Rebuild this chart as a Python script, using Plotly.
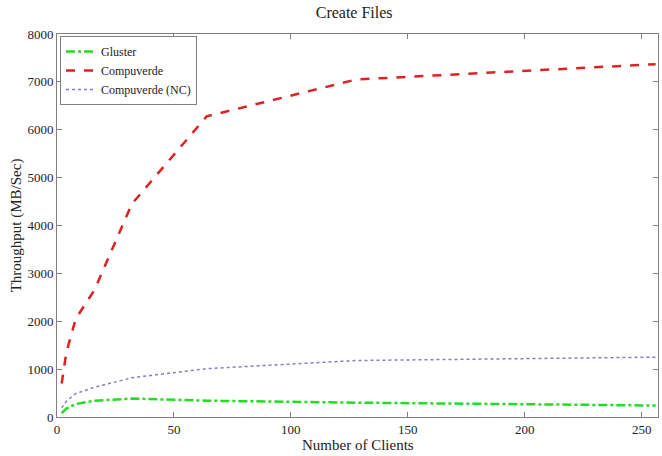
import plotly.graph_objects as go

clients = [2, 4, 8, 16, 32, 64, 128, 256]
gluster = [80, 175, 270, 340, 385, 340, 300, 240]
compuverde = [700, 1350, 2050, 2650, 4450, 6280, 7050, 7370]
compuverde_nc = [190, 330, 490, 620, 820, 1010, 1180, 1250]

font_family = "Liberation Serif, Times New Roman, serif"

fig = go.Figure()
fig.add_trace(go.Scatter(x=clients, y=gluster, mode="lines", name="Gluster",
                         line=dict(color="#22dd22", width=2.5, dash="dashdot")))
fig.add_trace(go.Scatter(x=clients, y=compuverde, mode="lines", name="Compuverde",
                         line=dict(color="#dd2222", width=2.5, dash="dash")))
fig.add_trace(go.Scatter(x=clients, y=compuverde_nc, mode="lines", name="Compuverde (NC)",
                         line=dict(color="#8080c0", width=1.5, dash="dot")))

axis_common = dict(showgrid=False, zeroline=False, showline=True, mirror="ticks",
                   linecolor="#808080", linewidth=1, ticks="inside", ticklen=5,
                   tickcolor="#808080", tickfont=dict(family=font_family, size=13, color="#222"))

fig.update_layout(
    width=662, height=456,
    margin=dict(l=57, r=4, t=34, b=39),
    paper_bgcolor="white", plot_bgcolor="white",
    font=dict(family=font_family, color="#222"),
    title=dict(text="Create Files", x=0.535, xanchor="center", y=0.985, yanchor="top",
               font=dict(family=font_family, size=16, color="#222")),
    xaxis=dict(range=[0, 257], tickvals=[0, 50, 100, 150, 200, 250], ticklabelstandoff=0,
               **axis_common),
    yaxis=dict(range=[0, 8000], tickvals=list(range(0, 8001, 1000)),
               title=dict(text="Throughput (MB/Sec)", standoff=2,
                          font=dict(family=font_family, size=15)), **axis_common),
    legend=dict(x=0.005, y=0.995, xanchor="left", yanchor="top",
                bgcolor="white", bordercolor="#808080", borderwidth=1,
                font=dict(family=font_family, size=12, color="#222"),
                tracegroupgap=0, itemwidth=30),
    showlegend=True,
    annotations=[dict(text="Number of Clients", xref="paper", yref="paper",
                      x=0.5, y=-0.047, xanchor="center", yanchor="top", showarrow=False,
                      font=dict(family=font_family, size=15, color="#222"))],
)

fig.write_html("out.html")
